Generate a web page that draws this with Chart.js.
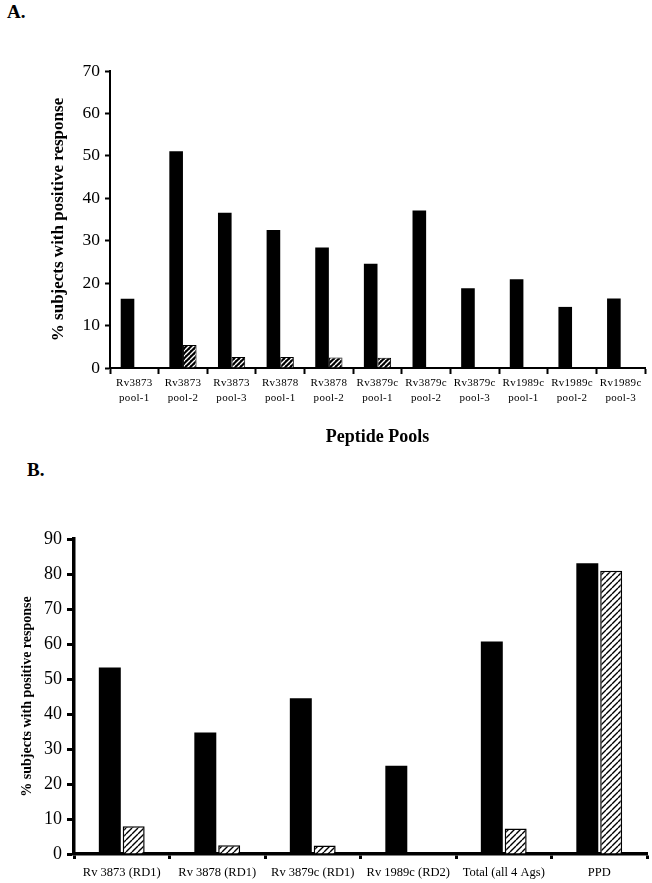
<!DOCTYPE html>
<html><head><meta charset="utf-8">
<script src="https://cdn.jsdelivr.net/npm/chart.js@4.4.1/dist/chart.umd.min.js"></script>
<style>
html,body{margin:0;padding:0;background:#fff;}
body{width:652px;height:883px;position:relative;overflow:hidden;font-family:'Liberation Serif','Times New Roman',serif;}
canvas{position:absolute;left:0;}
.lbl{position:absolute;font-weight:bold;font-size:19px;color:#000;line-height:22px;}
</style></head><body>
<div class="lbl" style="left:7px;top:1px;">A.</div>
<div class="lbl" style="left:27px;top:459px;">B.</div>
<canvas id="a" width="652" height="450" style="top:0"></canvas>
<canvas id="b" width="652" height="433" style="top:450px"></canvas>
<script>
// ---- Panel A data ----
const categoriesA = [
  ["Rv3873","pool-1"],["Rv3873","pool-2"],["Rv3873","pool-3"],
  ["Rv3878","pool-1"],["Rv3878","pool-2"],
  ["Rv3879c","pool-1"],["Rv3879c","pool-2"],["Rv3879c","pool-3"],
  ["Rv1989c","pool-1"],["Rv1989c","pool-2"],["Rv1989c","pool-3"]
];
const solidA   = [16.3, 51.1, 36.6, 32.5, 28.4, 24.6, 37.1, 18.8, 20.9, 14.4, 16.4];
const hatchedA = [0, 5.4, 2.6, 2.6, 2.5, 2.4, 0, 0, 0, 0, 0];
const yTicksA  = {min: 0, max: 70, step: 10};

// ---- Panel B data ----
const categoriesB = ["Rv 3873 (RD1)", "Rv 3878 (RD1)", "Rv 3879c (RD1)", "Rv 1989c (RD2)", "Total (all 4 Ags)", "PPD"];
const solidB   = [53.3, 34.7, 44.5, 25.2, 60.7, 83.1];
const hatchedB = [7.9, 2.5, 2.4, 0, 7.3, 80.9];
const yTicksB  = {min: 0, max: 90, step: 10};

const yTitle = "% subjects with positive response";
const xTitleA = "Peptide Pools";

const FONT = "'Liberation Serif','Times New Roman',serif";

function hatch(ctx, bg, fg, lw, s) {
  const c = document.createElement('canvas');
  c.width = s; c.height = s;
  const x = c.getContext('2d');
  x.fillStyle = bg; x.fillRect(0, 0, s, s);
  x.strokeStyle = fg; x.lineWidth = lw;
  x.beginPath();
  for (let k = -1; k <= 1; k++) { x.moveTo(k * s, s); x.lineTo(k * s + s, 0); }
  x.stroke();
  return ctx.createPattern(c, 'repeat');
}

// slightly widen letter spacing of the x tick labels only (scanned-type look)
const spacedLabels = {
  id: 'spacedLabels',
  beforeDraw(chart, args, opts) {
    const sc = chart.scales.x;
    if (!sc || sc._spaced) return;
    const orig = sc.drawLabels;
    sc.drawLabels = function (area) {
      const c = this.ctx;
      c.save();
      if ('letterSpacing' in c) c.letterSpacing = opts.spacing || '0px';
      orig.call(this, area);
      c.restore();
    };
    sc._spaced = true;
  }
};

const ctxA = document.getElementById('a').getContext('2d');
const ctxB = document.getElementById('b').getContext('2d');

new Chart(ctxA, {
  type: 'bar',
  plugins: [spacedLabels],
  data: {
    labels: categoriesA,
    datasets: [
      {data: solidA, backgroundColor: '#000', borderWidth: 0, categoryPercentage: 0.56, barPercentage: 1.0},
      {data: hatchedA, backgroundColor: hatch(ctxA, '#000', '#fff', 1.4, 5), borderColor: '#000', borderWidth: 1, categoryPercentage: 0.56, barPercentage: 1.0}
    ]
  },
  options: {
    responsive: false, animation: false,
    layout: {padding: {left: 0, right: 7, top: 71, bottom: 0}},
    plugins: {legend: {display: false}, tooltip: {enabled: false}, spacedLabels: {spacing: '0.3px'}},
    scales: {
      x: {
        grid: {display: true, drawOnChartArea: false, drawTicks: true, tickLength: 6, tickColor: '#000', tickWidth: 2, offset: true},
        border: {display: true, color: '#000', width: 2},
        ticks: {color: '#000', font: {family: FONT, size: 11, lineHeight: 1.36}, padding: 2, maxRotation: 0, autoSkip: false},
        title: {display: true, text: xTitleA, color: '#000', font: {family: FONT, size: 18, weight: 'bold'}, padding: {bottom: 2}},
        afterFit: s => { s.height = 82; }
      },
      y: {
        min: yTicksA.min, max: yTicksA.max,
        grid: {display: true, drawOnChartArea: false, drawTicks: true, tickLength: 5, tickColor: '#000', tickWidth: 2},
        border: {display: true, color: '#000', width: 2},
        ticks: {stepSize: yTicksA.step, color: '#000', font: {family: FONT, size: 17.5}, padding: 5},
        title: {display: true, text: yTitle, color: '#000', font: {family: FONT, size: 17, weight: 'bold'}, padding: {top: 48}},
        afterFit: s => { s.width = 110; }
      }
    }
  }
});

new Chart(ctxB, {
  type: 'bar',
  plugins: [spacedLabels],
  data: {
    labels: categoriesB,
    datasets: [
      {data: solidB, backgroundColor: '#000', borderWidth: 0, categoryPercentage: 0.5, barPercentage: 0.92},
      {data: hatchedB, backgroundColor: hatch(ctxB, '#fff', '#000', 1.4, 6), borderColor: '#000', borderWidth: 1.5, categoryPercentage: 0.5, barPercentage: 0.92}
    ]
  },
  options: {
    responsive: false, animation: false,
    layout: {padding: {left: 0, right: 5, top: 89, bottom: 0}},
    plugins: {legend: {display: false}, tooltip: {enabled: false}, spacedLabels: {spacing: '0px'}},
    scales: {
      x: {
        grid: {display: true, drawOnChartArea: false, drawTicks: true, tickLength: 5, tickColor: '#000', tickWidth: 3, offset: true},
        border: {display: true, color: '#000', width: 3.5},
        ticks: {color: '#000', font: {family: FONT, size: 12.5, lineHeight: 1.2}, padding: 6, maxRotation: 0, autoSkip: false},
        afterFit: s => { s.height = 29; }
      },
      y: {
        min: yTicksB.min, max: yTicksB.max,
        grid: {display: true, drawOnChartArea: false, drawTicks: true, tickLength: 7, tickColor: '#000', tickWidth: 3},
        border: {display: true, color: '#000', width: 3.5},
        ticks: {stepSize: yTicksB.step, color: '#000', font: {family: FONT, size: 18}, padding: 5},
        title: {display: true, text: yTitle, color: '#000', font: {family: FONT, size: 14, weight: 'bold'}, padding: {top: 19}},
        afterFit: s => { s.width = 74; }
      }
    }
  }
});
</script>
</body></html>
